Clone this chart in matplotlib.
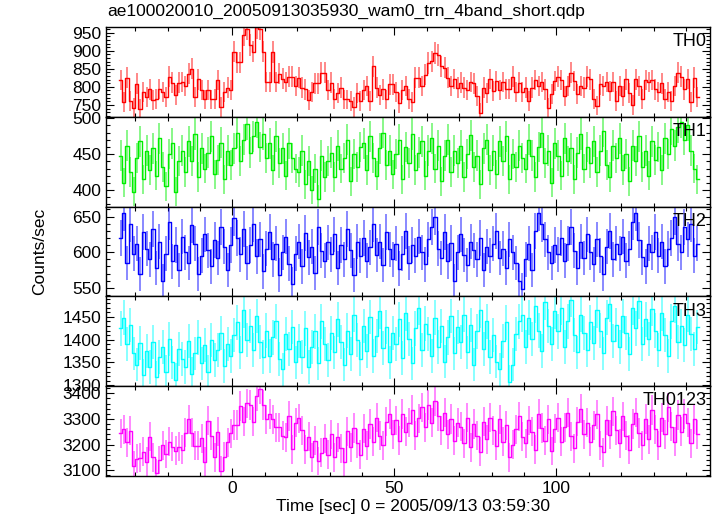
import numpy as np
import matplotlib
matplotlib.use("Agg")
import matplotlib.pyplot as plt
from matplotlib.ticker import MultipleLocator

plt.rcParams['font.family'] = ['Liberation Sans', 'DejaVu Sans']

# ---- data -------------------------------------------------------------
t_start = -35.0      # start of first 1-s bin [sec]
bin_width = 1.0

th0 = [819, 759, 825, 761, 741, 809, 739, 786, 773, 793, 764, 766, 795, 786, 771, 828,
       812, 777, 812, 814, 803, 837, 850, 773, 821, 792, 765, 792, 765, 766, 819, 744,
       785, 798, 792, 898, 868, 868, 945, 960, 916, 898, 965, 960, 898, 814, 814, 896,
       814, 837, 823, 814, 828,
       828, 803, 825, 798, 793, 764, 786, 810, 810, 839, 839, 792, 812, 766, 783, 798,
       765, 765, 762, 744, 783, 762, 792, 803, 762, 857, 798, 777, 793, 765, 807, 807,
       785, 755, 792, 803, 766, 759, 825, 825, 803, 834, 866, 871, 894, 889, 857, 853,
       825, 803, 822, 798, 812, 798, 792, 814, 810, 775, 728, 798, 783, 822, 789, 816,
       792, 814, 795,
       795, 828, 785, 812, 786, 798, 762, 798, 819, 803, 814, 793, 741, 780, 816, 828,
       819, 774, 803, 839, 816, 780, 803, 798, 828, 821, 766, 748, 807, 803, 814, 789,
       814, 762, 803, 775, 821, 783, 750, 821, 803, 766, 819, 814, 819, 793, 786, 810,
       766, 786, 762, 803, 839, 828, 793, 822, 757, 825, 771]

th1 = [448, 410, 462, 425, 398, 445, 468, 415, 455, 428,
       458, 420, 472, 432, 405, 450, 465, 398, 440, 455,
       425, 468, 440, 478, 418, 458, 430, 452, 475, 422,
       442, 466, 415, 455, 435,
       458, 480, 440, 470, 492, 452, 475, 495, 460, 478,
       445, 465, 428, 475, 438, 458, 420, 465, 445, 430,
       425, 455, 408, 440, 400, 430, 388, 448, 418, 440,
       452, 418, 462, 430, 445, 470, 412, 450, 432, 460,
       465, 428, 475, 445, 420, 458, 480, 435, 455, 422,
       450, 470, 415, 460, 438, 478, 428, 452, 468, 420,
       455, 472, 430, 462, 412, 448, 470, 425, 455, 438,
       462, 418, 450, 476, 432, 448, 408, 458, 470, 428,
       455, 422, 468, 440, 475, 415, 450, 432, 462, 445,
       430, 470, 448, 418, 460, 480, 438, 455, 410, 465,
       448, 420, 472, 440, 458, 415, 452, 478, 430, 460,
       438, 468, 425, 455, 482, 435, 418, 462, 445, 472,
       428, 450, 412, 462, 440, 475, 432, 455, 420, 468,
       442, 460, 428, 472, 450, 485, 462, 488, 495, 470,
       490, 455, 430, 415]

th2 = [620, 655, 585, 640, 598, 612, 570, 628, 605, 590,
       632, 578, 615, 560, 598, 642, 587, 610, 575, 622,
       600, 585, 638, 612, 570, 595, 625, 603, 580, 617,
       592, 635, 608, 575, 610,
       648, 620, 597, 632, 585, 610, 640, 594, 618, 573,
       605, 628, 590, 612, 568, 600, 622, 584, 556, 598,
       615, 580, 627, 593, 608, 571, 635, 602, 588, 614,
       597, 625, 578, 610, 590, 632, 603, 568, 615, 595,
       620, 588, 607, 640, 596, 615, 582, 628, 604, 590,
       612, 577, 598, 630, 585, 610, 595, 622, 600, 583,
       618, 635, 650, 605, 592, 628, 587, 613, 560, 600,
       625, 596, 582, 615, 603, 590, 620, 575, 608, 595,
       612, 630, 592, 605, 578, 618, 600, 585, 560, 548,
       590, 612, 575, 630, 655, 640, 618, 600, 585, 610,
       597, 620, 588, 612, 635, 602, 578, 615, 592, 625,
       600, 583, 618, 595, 570, 608, 630, 590, 612, 598,
       622, 588, 605, 642, 655, 617, 593, 580, 612, 600,
       628, 595, 615, 580, 605, 620, 650, 612, 600, 635,
       618, 640, 595, 612]

th3 = [1425, 1448, 1390, 1432, 1370, 1345, 1392, 1322, 1375, 1340,
       1395, 1318, 1362, 1385, 1330, 1402, 1350, 1312, 1380, 1358,
       1340, 1398, 1325, 1370, 1405, 1348, 1388, 1330, 1400, 1355,
       1378, 1415, 1342, 1390, 1365,
       1410, 1438, 1372, 1465, 1400, 1430, 1378, 1452, 1395, 1362,
       1420, 1365, 1405, 1440, 1358, 1335, 1412, 1380, 1428, 1350,
       1398, 1362, 1425, 1340, 1385, 1418, 1348, 1440, 1390, 1355,
       1415, 1372, 1445, 1395, 1345, 1420, 1368, 1455, 1400, 1358,
       1430, 1375, 1450, 1365, 1408, 1462, 1382, 1428, 1350, 1415,
       1390, 1445, 1360, 1458, 1402, 1348, 1425, 1470, 1378, 1435,
       1412, 1365, 1448, 1385, 1430, 1352, 1405, 1452, 1370, 1428,
       1395, 1455, 1372, 1432, 1345, 1418, 1465, 1380, 1440, 1362,
       1410, 1352, 1335, 1398, 1438, 1308, 1345, 1412, 1440, 1455,
       1385, 1448, 1402, 1475, 1420, 1375, 1482, 1430, 1390, 1462,
       1418, 1470, 1385, 1440, 1488, 1410, 1372, 1455, 1415, 1378,
       1438, 1392, 1465, 1420, 1370, 1448, 1478, 1398, 1432, 1385,
       1452, 1415, 1368, 1470, 1425, 1485, 1390, 1445, 1402, 1468,
       1420, 1378, 1458, 1410, 1365, 1440, 1475, 1395, 1430, 1388,
       1455, 1412, 1380, 1428]

th0123 = [3244, 3260, 3208, 3254, 3117, 3145, 3148, 3172, 3133, 3231,
          3150, 3088, 3140, 3198, 3163, 3211, 3192, 3176, 3192, 3179,
          3247, 3299, 3247, 3195, 3195, 3224, 3133, 3293, 3234, 3150,
          3250, 3098, 3153, 3208, 3244, 3276, 3276, 3350, 3289, 3361,
          3354, 3289, 3390, 3416, 3354, 3299, 3319, 3299, 3267, 3267,
          3234, 3228, 3312, 3182, 3286, 3302,
          3255, 3180, 3230, 3150, 3215, 3135, 3168, 3225, 3160,
          3240, 3150, 3228, 3185, 3130, 3252, 3190, 3265, 3205, 3160,
          3262, 3195, 3280, 3210, 3305, 3235, 3198, 3290, 3320, 3240,
          3295, 3215, 3320, 3250, 3285, 3335, 3235, 3302, 3345, 3268,
          3355, 3285, 3370, 3310, 3255, 3325, 3240, 3300, 3215, 3285,
          3270, 3205, 3305, 3190, 3280, 3235, 3172, 3290, 3220, 3305,
          3255, 3195, 3298, 3210, 3275, 3150, 3200, 3260, 3310, 3230,
          3205, 3295, 3250, 3180, 3320, 3265, 3215, 3298, 3175, 3262,
          3305, 3210, 3268, 3325, 3232, 3185, 3290, 3340, 3240, 3285,
          3210, 3275, 3318, 3195, 3170, 3295, 3238, 3330, 3255, 3205,
          3310, 3235, 3180, 3280, 3325, 3245, 3198, 3300, 3220, 3335,
          3260, 3195, 3305, 3240, 3345, 3270, 3210, 3315, 3250, 3320,
          3285, 3205, 3300, 3240]

panel_names = ["TH0", "TH1", "TH2", "TH3", "TH0123"]
panel_colors = ["#ff0000", "#00ee00", "#0000ff", "#00ffff", "#ff00ff"]
panel_ylims = [(717, 966), (377, 502), (538, 664), (1298, 1495), (3077, 3428)]
panel_major = [50, 50, 50, 50, 100]
panel_minor = [10, 10, 10, 10, 20]
series = [th0, th1, th2, th3, th0123]

title = "ae100020010_20050913035930_wam0_trn_4band_short.qdp"
xlabel = "Time [sec] 0 = 2005/09/13 03:59:30"
ylabel = "Counts/sec"
xlim = (-39.0, 147.4)

# ---- figure -----------------------------------------------------------
W, H = 717, 516
fig = plt.figure(figsize=(W / 100, H / 100), dpi=100)

left, right = 106 / W, 710 / W
top_px, bot_px = 27, 476
ph = (bot_px - top_px) / 5

for k in range(5):
    y0 = 1 - (top_px + (k + 1) * ph) / H
    ax = fig.add_axes([left, y0, right - left, ph / H])
    vals = np.asarray(series[k], dtype=float)
    col = panel_colors[k]
    edges = t_start + bin_width * np.arange(len(vals) + 1)
    centers = edges[:-1] + bin_width / 2
    err = np.sqrt(vals * bin_width) / bin_width
    ax.vlines(centers, vals - err, vals + err, colors=col, lw=1.3, alpha=0.5)
    ax.step(edges, np.append(vals, vals[-1]), where='post', color=col, lw=1.0)
    ax.set_xlim(*xlim)
    ax.set_ylim(*panel_ylims[k])
    ax.xaxis.set_major_locator(MultipleLocator(50))
    ax.xaxis.set_minor_locator(MultipleLocator(10))
    ax.yaxis.set_major_locator(MultipleLocator(panel_major[k]))
    ax.yaxis.set_minor_locator(MultipleLocator(panel_minor[k]))
    ax.tick_params(which='both', direction='in', top=True, right=True, labelsize=12.5,
                   width=0.8, colors='black')
    ax.tick_params(which='major', length=6)
    ax.tick_params(which='minor', length=3)
    for s in ax.spines.values():
        s.set_linewidth(1.0)
    if k < 4:
        ax.tick_params(labelbottom=False)
    ax.text(0.995, 0.93, panel_names[k], transform=ax.transAxes, ha='right', va='top',
            fontsize=13)

fig.text(107 / W, 1 - 11 / H, title, ha='left', va='center', fontsize=12.5)
fig.text(40 / W, 1 - 251 / H, ylabel, rotation=90, ha='center', va='center', fontsize=12.5)
fig.text(413 / W, 1 - 507 / H, xlabel, ha='center', va='center', fontsize=12.5)

fig.savefig("out.png", dpi=100)
